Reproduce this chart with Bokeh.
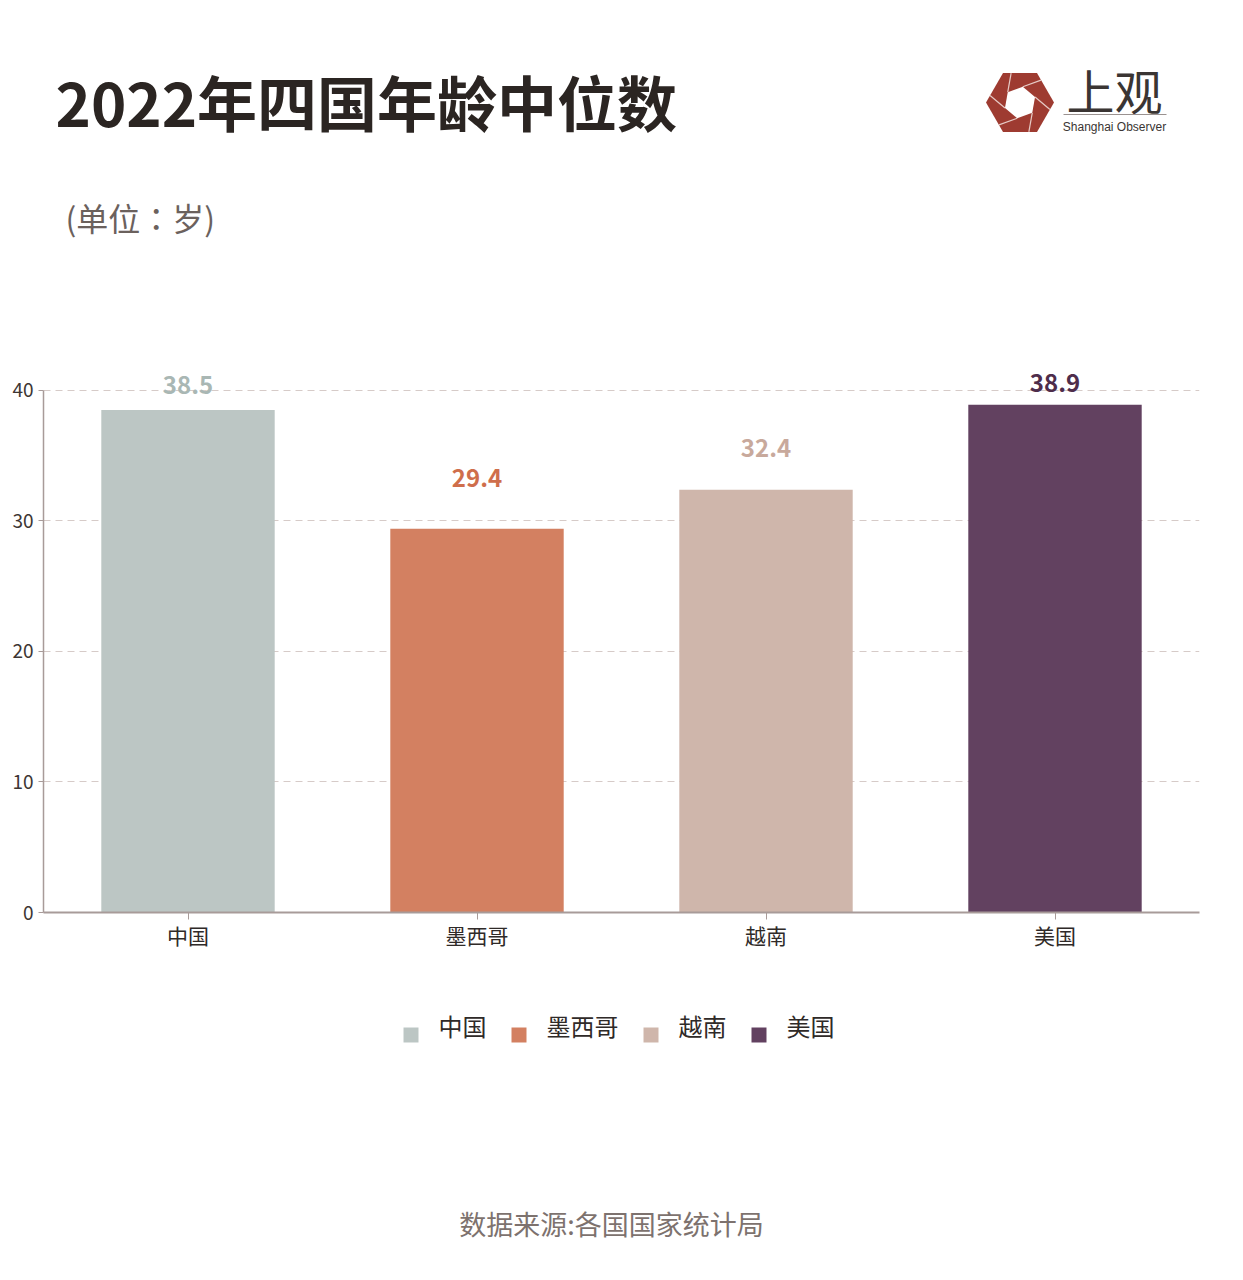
import math
from bokeh.plotting import figure
from bokeh.layouts import column
from bokeh.models import ColumnDataSource, FactorRange, Range1d, FixedTicker
from bokeh.core.properties import value
from bokeh.embed import file_html
from bokeh.resources import INLINE

# ---------------- data ----------------
countries = ["中国", "墨西哥", "越南", "美国"]
median_age = [38.5, 29.4, 32.4, 38.9]
value_labels = ["38.5", "29.4", "32.4", "38.9"]
y_ticks = [0, 10, 20, 30, 40]
title_text = "2022年四国年龄中位数"
unit_text = "(单位：岁)"
source_text = "数据来源:各国国家统计局"

# ---------------- style ----------------
bar_colors = ["#bcc6c4", "#d38061", "#cfb6ab", "#624160"]
label_colors = ["#a9b7b4", "#cf6e4b", "#c8a99c", "#4e2d4b"]
label_lift_px = [25, 51, 42, 22]

FONT = "Noto Sans CJK SC"
AXIS_C = "#a89b99"
FL, FR = 43, 36
FRAME_W, FRAME_H = 1156, 572
HEADER_H = 340
MAIN_BOTTOM = 60
FOOTER_H = 300
FOOTER_TOP = HEADER_H + FRAME_H + MAIN_BOTTOM   # 972


def blank_fig(height, y_top):
    # same horizontal frame as the chart so the column keeps frames aligned;
    # data units equal page pixels
    f = figure(frame_width=FRAME_W, frame_height=height, title=None,
               x_range=Range1d(FL, FL + FRAME_W), y_range=Range1d(y_top + height, y_top),
               x_axis_location=None, y_axis_location=None,
               min_border_left=FL, min_border_right=FR,
               min_border_top=0, min_border_bottom=0,
               output_backend="svg", toolbar_location=None,
               outline_line_color=None, background_fill_color="white",
               border_fill_color="white")
    f.xgrid.visible = False
    f.ygrid.visible = False
    return f


# ================= header =================
hd = blank_fig(HEADER_H, 0)
hd.text(x=[55], y=[100], text=[title_text], text_font=value(FONT), text_font_style="bold",
        text_font_size="60px", text_color="#2b2522", text_baseline="middle")
hd.text(x=[65], y=[216], text=[unit_text], text_font=value("Noto Sans CJK TC"),
        text_font_size="32px", text_color="#6b615d", text_baseline="middle")

# logo
cx, cy, R, r_in = 1019.5, 102, 34, 16
outer = [(cx + R * math.cos(math.radians(a)), cy + R * math.sin(math.radians(a)))
         for a in range(0, 360, 60)]
inner = [(cx + r_in * math.cos(math.radians(a + 100)), cy + r_in * math.sin(math.radians(a + 100)))
         for a in range(0, 360, 60)]
hd.patch([v[0] for v in outer], [v[1] for v in outer], fill_color="#9e3b31", line_color=None)
hd.patch([v[0] for v in inner], [v[1] for v in inner], fill_color="white", line_color=None)


def ray_hit(px, py, dx, dy):
    best = None
    for i in range(6):
        ax, ay = outer[i]
        bx, by = outer[(i + 1) % 6]
        ex, ey = bx - ax, by - ay
        den = dx * ey - dy * ex
        if abs(den) < 1e-9:
            continue
        t = ((ax - px) * ey - (ay - py) * ex) / den
        u = ((ax - px) * dy - (ay - py) * dx) / den
        if t > 0 and 0 <= u <= 1 and (best is None or t < best):
            best = t
    return px + best * dx, py + best * dy


x0s, y0s, x1s, y1s = [], [], [], []
for i in range(6):
    vx, vy = inner[i]
    qx, qy = inner[i - 1]
    hx, hy = ray_hit(vx, vy, vx - qx, vy - qy)
    x0s.append(vx); y0s.append(vy); x1s.append(hx); y1s.append(hy)
hd.segment(x0=x0s, y0=y0s, x1=x1s, y1=y1s, line_color="#e6cbc6", line_width=1.2)

hd.text(x=[1114], y=[88], text=["上观"], text_font=value(FONT), text_font_size="48px",
        text_color="#3a3533", text_baseline="middle", text_align="center")
hd.segment(x0=[1063], y0=[114], x1=[1166], y1=[114], line_color="#9a9290", line_width=1)
hd.text(x=[1114], y=[126], text=["Shanghai Observer"], text_font=value("Liberation Sans"),
        text_font_size="12px", text_color="#3a3533", text_baseline="middle",
        text_align="center")

# ================= main chart =================
p = figure(x_range=FactorRange(factors=countries, range_padding=0, factor_padding=0),
           y_range=Range1d(0, 43.83), title=None,
           frame_width=FRAME_W, frame_height=FRAME_H,
           min_border_left=FL, min_border_right=FR, min_border_top=0,
           min_border_bottom=MAIN_BOTTOM,
           output_backend="svg", toolbar_location=None,
           outline_line_color=None, background_fill_color="white", border_fill_color="white")

src = ColumnDataSource(dict(country=countries, age=median_age, color=bar_colors,
                            lbl=value_labels, lcolor=label_colors,
                            off=[-v for v in label_lift_px]))

p.vbar(x="country", top="age", width=0.6, fill_color="color", line_color=None, source=src)
p.text(x="country", y="age", text="lbl", y_offset="off", text_color="lcolor",
       text_font=value(FONT), text_font_style="bold", text_font_size="24px",
       text_align="center", text_baseline="middle", source=src)

p.xgrid.grid_line_color = None
p.ygrid.ticker = FixedTicker(ticks=[10, 20, 30, 40])
p.ygrid.grid_line_color = "#d6cbc8"
p.ygrid.grid_line_dash = "7 5"
p.ygrid.grid_line_width = 1

ya = p.yaxis[0]
ya.ticker = FixedTicker(ticks=y_ticks)
ya.bounds = (0, 40)
ya.axis_line_color = AXIS_C
ya.axis_line_width = 1.5
ya.major_tick_line_color = AXIS_C
ya.major_tick_out = 5
ya.major_tick_in = 0
ya.minor_tick_line_color = None
ya.major_label_standoff = 5
ya.major_label_text_font = FONT
ya.major_label_text_font_size = "19px"
ya.major_label_text_color = "#3d3633"

xa = p.xaxis[0]
xa.axis_line_color = AXIS_C
xa.axis_line_width = 2
xa.major_tick_line_color = AXIS_C
xa.major_tick_out = 7
xa.major_tick_in = 0
xa.major_label_standoff = 0
xa.major_label_text_font = FONT
xa.major_label_text_font_size = "21px"
xa.major_label_text_color = "#2f2a28"

# ================= footer =================
ft = blank_fig(FOOTER_H, FOOTER_TOP)
lx = 403
lefts, labx = [], []
for name in countries:
    lefts.append(lx)
    labx.append(lx + 35)
    lx += 15 + 20 + 24 * len(name) + 25
ft.quad(left=lefts, right=[v + 15 for v in lefts], top=[1027] * 4, bottom=[1042] * 4,
        fill_color=bar_colors, line_color=None)
ft.text(x=labx, y=[1025] * 4, text=countries, text_font=value(FONT), text_font_size="24px",
        text_color="#2f2a28", text_baseline="middle")
ft.text(x=[611], y=[1223], text=[source_text], text_font=value(FONT), text_font_size="27px",
        text_color="#7d726e", text_baseline="middle", text_align="center")

layout = column(hd, p, ft, spacing=0)
open("out.html", "w").write(file_html(layout, INLINE))
